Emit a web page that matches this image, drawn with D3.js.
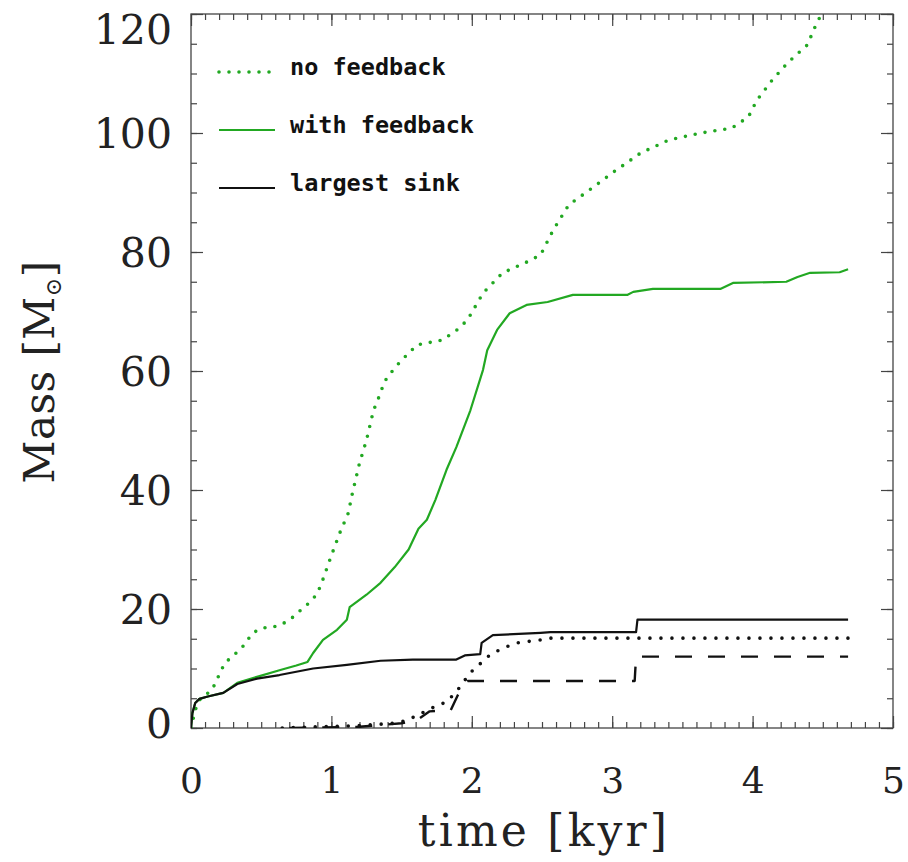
<!DOCTYPE html>
<html><head><meta charset="utf-8">
<script src="https://cdn.jsdelivr.net/npm/d3@7"></script>
<style>html,body{margin:0;padding:0;background:#fff;}</style>
</head><body>
<script>
// ---- data ----
const noFeedbackT = [0,0.03,0.06,0.1,0.15,0.24,0.36,0.44,0.51,0.59,0.66,0.73,0.80,0.85,0.90,0.94,1.00,1.06,1.12,1.15,1.20,1.25,1.30,1.33,1.38,1.45,1.50,1.61,1.79,1.90,1.97,2.08,2.22,2.39,2.49,2.58,2.69,2.86,3.03,3.08,3.20,3.40,3.63,3.85,3.97,4.03,4.14,4.25,4.39,4.44,4.49];
const noFeedbackM = [0,3,4.7,5.5,6.4,10.9,13.4,16.0,16.8,17.0,17.6,18.7,20.2,21.2,22.6,25.0,29.0,32.8,36.1,39.5,44.5,48.4,53.4,55.1,58.3,60.5,61.8,64.4,65.2,67.0,68.6,73.1,76.5,78.3,79.5,83.7,87.9,90.8,93.8,94.6,96.6,98.8,100.0,100.8,102.7,105.5,108.9,111.8,114.8,117.6,120];

const withFeedbackT = [0,0.01,0.03,0.06,0.12,0.23,0.33,0.47,0.63,0.75,0.83,0.87,0.94,1.04,1.11,1.13,1.25,1.35,1.45,1.55,1.62,1.68,1.74,1.82,1.89,1.99,2.08,2.11,2.18,2.27,2.39,2.54,2.72,3.11,3.15,3.29,3.77,3.86,4.24,4.32,4.41,4.62,4.68];
const withFeedbackM = [0,2.5,4.2,4.9,5.3,5.9,7.6,8.6,9.7,10.5,11.1,12.6,14.8,16.5,18.2,20.3,22.4,24.4,27,30,33.5,35,38.3,43.4,47.2,53.4,60.2,63.5,66.9,69.7,71.1,71.6,72.8,72.8,73.3,73.8,73.8,74.8,75.0,75.8,76.5,76.6,77.1];

const largestSinkT = [0,0.01,0.03,0.06,0.12,0.23,0.33,0.47,0.63,0.87,1.11,1.35,1.58,1.89,1.95,2.06,2.07,2.15,2.49,2.56,3.17,3.18,4.68];
const largestSinkM = [0,2.5,4.2,4.9,5.3,5.9,7.4,8.3,8.9,10.0,10.6,11.3,11.5,11.5,12.2,12.4,14.3,15.6,16.0,16.1,16.1,18.2,18.2];

const sinkNoFbT = [0.65,0.9,1.2,1.45,1.54,1.72,1.82,1.89,1.99,2.13,2.22,2.32,2.49,2.56,4.68];
const sinkNoFbM = [0,0.2,0.4,0.8,1.3,3.4,4.4,6.1,9.3,12.3,13.4,14.3,14.8,15.1,15.1];

const sinkDashedT = [0.7,1.2,1.5,1.6,1.7,1.85,1.9,1.97,3.16,3.17,4.68];
const sinkDashedM = [0,0.2,0.8,1.2,2.8,3.0,5.5,7.9,7.9,12.0,12.0];

const xTicks = [0,1,2,3,4,5];
const yTicks = [0,20,40,60,80,100,120];
const legendLabels = ["no feedback","with feedback","largest sink"];
const xTitle = "time [kyr]";

// ---- layout ----
const W = 908, H = 862;
const L = 191, R = 893, T = 14, B = 728;
const green = "#22a822";

const svg = d3.select("body").append("svg").attr("width", W).attr("height", H);
const x = d3.scaleLinear().domain([0,5]).range([L,R]);
const y = d3.scaleLinear().domain([0,120]).range([B,T]);

svg.append("defs").append("clipPath").attr("id","clip")
  .append("rect").attr("x",L).attr("y",T).attr("width",R-L).attr("height",B-T);

const axisColor = "#444";
function drawAxis(gen, tx, ty){
  const g = svg.append("g").attr("transform",`translate(${tx},${ty})`).call(gen);
  g.selectAll("path.domain").remove();
  g.selectAll("line").attr("stroke",axisColor).attr("stroke-width",1.2);
  return g;
}
const xMinor = d3.range(0,5.0001,0.1);
const yMinor = d3.range(0,120.0001,5);
// bottom
const gxb = drawAxis(d3.axisBottom(x).tickValues(xTicks).tickSize(-12).tickFormat(d3.format("d")).tickPadding(39), 0, B);
gxb.selectAll("text").attr("font-family","DejaVu Serif").attr("font-size",36).attr("fill","#222");
drawAxis(d3.axisBottom(x).tickValues(xMinor).tickSize(-6).tickFormat(""), 0, B);
// top
drawAxis(d3.axisTop(x).tickValues(xTicks).tickSize(-12).tickFormat(""), 0, T);
drawAxis(d3.axisTop(x).tickValues(xMinor).tickSize(-6).tickFormat(""), 0, T);
// left
const gyl = drawAxis(d3.axisLeft(y).tickValues(yTicks).tickSize(-12).tickFormat(d3.format("d")).tickPadding(19), L, 0);
gyl.selectAll("text").attr("font-family","DejaVu Serif").attr("font-size",41).attr("fill","#222")
  .attr("dy", d => d === 120 ? "0.72em" : (d === 0 ? "0.22em" : "0.36em"));
drawAxis(d3.axisLeft(y).tickValues(yMinor).tickSize(-6).tickFormat(""), L, 0);
// right
drawAxis(d3.axisRight(y).tickValues(yTicks).tickSize(-12).tickFormat(""), R, 0);
drawAxis(d3.axisRight(y).tickValues(yMinor).tickSize(-6).tickFormat(""), R, 0);

svg.append("rect").attr("x",L).attr("y",T).attr("width",R-L).attr("height",B-T)
  .attr("fill","none").attr("stroke",axisColor).attr("stroke-width",1.3);

// lines
const line = d3.line().x(d=>x(d[0])).y(d=>y(d[1]));
const plot = svg.append("g").attr("clip-path","url(#clip)");
function series(T_, M_, color, width, dash, cap){
  const data = T_.map((t,i)=>[t,M_[i]]);
  plot.append("path").attr("d",line(data)).attr("fill","none")
    .attr("stroke",color).attr("stroke-width",width)
    .attr("stroke-dasharray",dash||null).attr("stroke-linecap",cap||"butt")
    .attr("stroke-linejoin","round");
}
series(noFeedbackT, noFeedbackM, green, 3.6, "0,10", "round");
series(withFeedbackT, withFeedbackM, green, 2.2);
series(sinkNoFbT, sinkNoFbM, "#111", 3.6, "0,11", "round");
series(sinkDashedT, sinkDashedM, "#111", 2.4, "17,16");
series(largestSinkT, largestSinkM, "#111", 2.2);

// legend
const legendStyles = [
  {color:green, width:3.6, dash:"0,10", cap:"round"},
  {color:green, width:2.2, dash:null, cap:"butt"},
  {color:"#111", width:2.2, dash:null, cap:"butt"}
];
const lg = svg.append("g");
legendLabels.forEach((lab,i)=>{
  const yy = 75 + i*58;
  const s = legendStyles[i];
  lg.append("line").attr("x1",219).attr("x2",275).attr("y1",yy-3).attr("y2",yy-3)
    .attr("stroke",s.color).attr("stroke-width",s.width)
    .attr("stroke-dasharray",s.dash).attr("stroke-linecap",s.cap);
  lg.append("text").attr("x",290).attr("y",yy).text(lab)
    .attr("font-family","DejaVu Sans Mono").attr("font-weight","bold")
    .attr("font-size",23.5).attr("fill","#111");
});

// axis titles
svg.append("text").attr("x",(L+R)/2 + 2).attr("y",846).attr("text-anchor","middle")
  .attr("font-family","DejaVu Serif").attr("font-size",44).attr("letter-spacing",3.2)
  .attr("fill","#222").text(xTitle);

const yt = svg.append("text").attr("transform",`translate(54,372) rotate(-90)`)
  .attr("text-anchor","middle").attr("font-family","DejaVu Serif").attr("font-size",42)
  .attr("letter-spacing",0.5).attr("fill","#222");
yt.append("tspan").text("Mass [M");
yt.append("tspan").attr("font-size",22).attr("dy",7).text("⊙");
yt.append("tspan").attr("dy",-7).text("]");
</script>
</body></html>
